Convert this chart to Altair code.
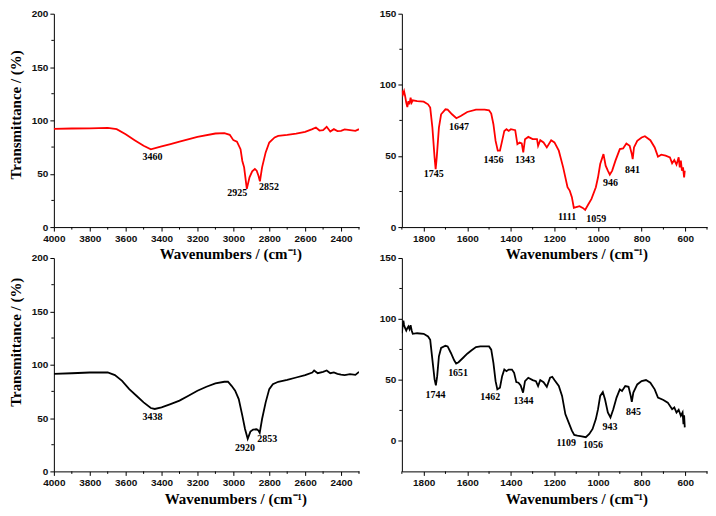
import altair as alt
import pandas as pd

# ---------------- data ----------------
# Top-left (red), 4000-2300 cm-1
tl_wn = [4000, 3900, 3800, 3700, 3650, 3600, 3550, 3500, 3460, 3400, 3350, 3300, 3200, 3100,
         3050, 3020, 3000, 2980, 2960, 2950, 2940, 2925, 2910, 2895, 2880, 2870, 2860, 2852,
         2840, 2820, 2800, 2770, 2750, 2700, 2650, 2600, 2560, 2540, 2520, 2500, 2480, 2460,
         2440, 2420, 2400, 2380, 2350, 2320, 2300]
tl_t = [92.0, 92.4, 92.6, 93.0, 91.8, 87.0, 81.5, 76.2, 72.8, 75.6, 77.8, 80.0, 84.6, 87.7,
        88.0, 86.5, 81.5, 80.0, 73.0, 62.0, 56.0, 35.8, 46.7, 52.3, 54.4, 52.9, 48.2, 42.9,
        56.0, 70.0, 79.3, 84.0, 85.5, 86.5, 87.7, 89.3, 91.8, 93.3, 90.5, 90.8, 94.0, 89.6,
        91.8, 90.0, 90.2, 91.5, 90.8, 90.2, 91.8]
tl_lbl = ["3460", "2925", "2852"]
tl_lx = [3450, 2978, 2802]
tl_ly = [65.3, 32.0, 37.3]

# Bottom-left (black), 4000-2300 cm-1
bl_wn = [4000, 3900, 3800, 3700, 3660, 3620, 3580, 3540, 3500, 3460, 3438, 3400, 3350, 3300,
         3250, 3200, 3150, 3100, 3050, 3030, 3010, 2990, 2970, 2950, 2935, 2920, 2905, 2890,
         2870, 2860, 2853, 2840, 2820, 2800, 2780, 2750, 2700, 2650, 2600, 2560, 2550, 2530,
         2500, 2480, 2460, 2440, 2420, 2400, 2380, 2350, 2320, 2300]
bl_t = [91.4, 92.0, 92.7, 92.7, 90.2, 84.9, 77.1, 70.9, 64.7, 59.4, 58.5, 60.0, 63.1, 66.3,
        70.9, 75.6, 79.3, 82.4, 84.0, 84.0, 80.2, 75.6, 67.8, 52.3, 39.8, 30.5, 37.3, 39.2,
        39.5, 38.3, 36.1, 49.1, 64.7, 77.1, 81.8, 84.0, 85.8, 88.0, 90.2, 92.7, 94.6, 92.0,
        93.3, 94.6, 92.0, 92.7, 91.5, 90.8, 90.2, 91.1, 90.5, 93.3]
bl_lbl = ["3438", "2920", "2853"]
bl_lx = [3450, 2935, 2811]
bl_ly = [51.3, 21.8, 30.5]

# Top-right (red), 1900-500 cm-1
tr_wn = [1900, 1895, 1890, 1885, 1880, 1875, 1870, 1865, 1860, 1855, 1850, 1830, 1800, 1780,
         1770, 1760, 1750, 1745, 1740, 1730, 1720, 1700, 1690, 1670, 1650, 1630, 1600, 1560,
         1520, 1500, 1490, 1480, 1470, 1460, 1450, 1440, 1430, 1420, 1410, 1400, 1380, 1370,
         1360, 1350, 1343, 1335, 1320, 1300, 1280, 1275, 1265, 1250, 1235, 1215, 1200, 1180,
         1160, 1140, 1130, 1120, 1111, 1100, 1085, 1070, 1059, 1045, 1030, 1010, 1000, 990,
         975, 965, 955, 946, 935, 920, 900, 885, 870, 855, 845, 841, 835, 820, 800, 785, 760,
         740, 725, 710, 690, 670, 660, 650, 640, 630, 625, 620, 615, 610, 605, 602]
tr_t = [96.1, 93.3, 95.6, 92.1, 87.5, 84.4, 88.6, 86.3, 91.0, 87.5, 89.1, 88.6, 88.2, 86.3,
        84.0, 70.0, 49.0, 40.8, 49.0, 70.0, 79.3, 82.8, 82.6, 79.3, 76.5, 78.1, 80.9, 82.6,
        82.6, 82.1, 79.8, 72.3, 60.6, 53.7, 53.7, 60.6, 67.6, 68.8, 67.6, 68.8, 68.1, 58.3,
        59.5, 58.8, 52.5, 61.8, 63.4, 61.8, 61.8, 57.1, 61.1, 59.5, 56.0, 61.1, 59.5, 53.7,
        42.0, 28.0, 25.7, 21.0, 13.5, 14.0, 14.7, 13.5, 12.1, 15.9, 19.8, 28.0, 35.0, 44.3,
        51.3, 43.2, 39.7, 36.9, 39.7, 46.7, 54.8, 55.3, 58.8, 57.1, 51.3, 47.8, 56.0, 60.6,
        63.0, 63.9, 61.1, 56.0, 49.5, 50.9, 50.2, 49.0, 44.8, 47.1, 43.9, 49.0, 42.0, 46.7,
        39.7, 42.0, 35.0, 39.7]
tr_lbl = ["1745", "1647", "1456", "1343", "1111", "1059", "946", "841"]
tr_lx = [1754, 1638, 1480, 1335, 1142, 1008, 943, 842]
tr_ly = [37.3, 70.0, 47.1, 47.1, 7.0, 5.8, 31.0, 40.4]

# Bottom-right (black), 1900-500 cm-1
br_wn = [1900, 1897, 1893, 1890, 1885, 1880, 1875, 1870, 1865, 1860, 1855, 1850, 1830, 1800,
         1780, 1770, 1760, 1750, 1744, 1738, 1730, 1720, 1700, 1690, 1675, 1660, 1651, 1640,
         1620, 1600, 1580, 1560, 1540, 1500, 1490, 1480, 1470, 1462, 1450, 1440, 1430, 1420,
         1410, 1395, 1385, 1375, 1365, 1355, 1344, 1335, 1320, 1300, 1285, 1275, 1265, 1250,
         1235, 1220, 1210, 1200, 1180, 1165, 1150, 1135, 1120, 1109, 1095, 1075, 1056, 1040,
         1025, 1010, 1000, 990, 978, 968, 955, 943, 930, 915, 900, 890, 875, 860, 850, 845,
         838, 820, 800, 780, 760, 740, 725, 700, 680, 660, 650, 640, 630, 620, 612, 608, 605,
         602]
br_t = [88.3, 93.2, 98.6, 95.1, 92.4, 90.5, 92.4, 93.8, 91.6, 94.9, 90.5, 87.8, 88.3, 87.8,
        85.6, 82.9, 66.7, 50.4, 45.5, 53.1, 69.4, 76.2, 78.0, 77.5, 72.1, 66.1, 63.4, 64.5,
        68.0, 71.5, 74.3, 77.0, 77.5, 77.5, 74.8, 64.0, 49.0, 42.3, 43.6, 53.1, 58.5, 57.2,
        58.5, 58.5, 55.8, 48.2, 47.7, 45.5, 39.6, 49.0, 51.8, 49.9, 49.0, 45.0, 49.9, 48.2,
        44.4, 51.8, 52.6, 49.9, 45.0, 36.9, 22.0, 15.2, 8.4, 4.9, 4.3, 3.8, 3.0, 5.7,
        9.8, 17.9, 26.0, 36.9, 40.1, 34.1, 23.3, 19.2, 26.0, 35.5, 42.3, 40.9, 45.0, 44.4,
        36.9, 32.0, 39.6, 46.3, 49.0, 49.9, 47.7, 42.3, 35.5, 33.6, 31.4, 26.0, 27.4, 23.3,
        25.5, 20.6, 23.3, 13.8, 21.1, 11.1]
br_lbl = ["1744", "1651", "1462", "1344", "1109", "1056", "943", "845"]
br_lx = [1746, 1642, 1495, 1342, 1146, 1023, 945, 837]
br_ly = [37.4, 55.8, 36.0, 32.8, -1.9, -3.3, 11.7, 23.8]

# ---------------- styling ----------------
W, H = 306, 214
SERIF = "Liberation Serif"
SANS = "Liberation Sans"


def panel(wn, t, color, lbl, lx, ly, xdom, ydom, xtitle, xtitle_x, ytitle_y=None):
    df = pd.DataFrame({"wn": wn, "t": t})
    ann = pd.DataFrame({"lbl": lbl, "x": lx, "y": ly})
    xmajor = [v for v in range(xdom[0], xdom[1] + 1, 100) if v % 200 == 0]
    xminor = pd.DataFrame({"v": [v for v in range(xdom[0], xdom[1] + 1, 100) if v % 200 != 0]})
    ymajor = list(range(0, ydom[1] + 1, 50))
    yminor = pd.DataFrame({"v": [v for v in range(0, ydom[1] + 1, 25) if v % 50 != 0]})
    common = dict(
        grid=False, domainColor="#000", tickColor="#000", domainWidth=1, tickWidth=1,
        tickSize=4, labelFont=SANS, labelFontWeight="bold", labelFontSize=10,
        labelColor="#111", labelPadding=2, labelFlush=False, labelOverlap=False, format="d",
    )
    xaxis = alt.Axis(
        values=xmajor, title=xtitle, titleFont=SERIF, titleFontWeight="bold",
        titleFontSize=15, titleColor="#000", titleX=xtitle_x, titleY=27,
        titleAlign="center", titleBaseline="middle", titleAnchor="start", **common)
    if ytitle_y is not None:
        yaxis = alt.Axis(
            values=ymajor, title="Transmittance / (%)", titleFont=SERIF,
            titleFontWeight="bold", titleFontSize=15, titleColor="#000", titleAngle=270,
            titleX=-38.5, titleY=ytitle_y, titleAlign="center", titleBaseline="middle",
            **common)
    else:
        yaxis = alt.Axis(values=ymajor, title=None, **common)
    xs = alt.Scale(domain=[xdom[0], xdom[1]], reverse=True, nice=False, zero=False)
    ys = alt.Scale(domain=list(ydom), nice=False, zero=False)
    line = alt.Chart(df).mark_line(color=color, strokeWidth=1.8, clip=True).encode(
        x=alt.X("wn:Q", scale=xs, axis=xaxis),
        y=alt.Y("t:Q", scale=ys, axis=yaxis),
    )
    text = alt.Chart(ann).mark_text(font=SERIF, fontWeight="bold", fontSize=10,
                                    color="#000", align="center", baseline="middle").encode(
        x=alt.X("x:Q", scale=xs, axis=xaxis),
        y=alt.Y("y:Q", scale=ys, axis=yaxis),
        text="lbl:N",
    )
    xmin_ticks = alt.Chart(xminor).mark_rule(color="#000", strokeWidth=1).encode(
        x=alt.X("v:Q", scale=xs, axis=xaxis), y=alt.value(H), y2=alt.value(H + 2.5))
    ymin_ticks = alt.Chart(yminor).mark_rule(color="#000", strokeWidth=1).encode(
        y=alt.Y("v:Q", scale=ys, axis=yaxis), x=alt.value(0), x2=alt.value(-2.5))
    return alt.layer(line, text, xmin_ticks, ymin_ticks).properties(width=W, height=H)


tl = panel(tl_wn, tl_t, "#ff0000", tl_lbl, tl_lx, tl_ly, (2300, 4000), (0, 200),
           "Wavenumbers  / (cm⁻¹)", 177, ytitle_y=101)
tr = panel(tr_wn, tr_t, "#ff0000", tr_lbl, tr_lx, tr_ly, (500, 1900), (0, 150),
           "Wavenumbers / (cm⁻¹)", 175)
bl = panel(bl_wn, bl_t, "#000000", bl_lbl, bl_lx, bl_ly, (2300, 4000), (0, 200),
           "Wavenumbers  / (cm⁻¹)", 182, ytitle_y=84)
br = panel(br_wn, br_t, "#000000", br_lbl, br_lx, br_ly, (500, 1900), (-25, 150),
           "Wavenumbers / (cm⁻¹)", 175)

chart = alt.concat(tl, tr, bl, br, columns=2, spacing={"row": 31, "column": 43},
                   bounds="flush").properties(
    padding=0, background="white"
).configure_view(stroke=None)

chart.save("out.html", embed_options={"renderer": "svg", "actions": False})
